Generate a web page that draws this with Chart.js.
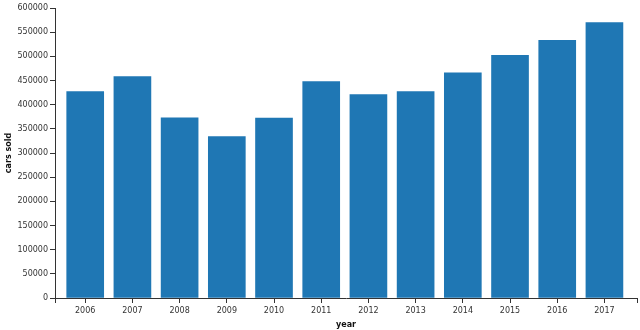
<!DOCTYPE html>
<html>
<head>
<meta charset="utf-8">
<script src="https://cdn.jsdelivr.net/npm/chart.js@4"></script>
<style>
    html, body { margin: 0; padding: 0; background: #fff; }
    #wrap { width: 640px; height: 330px; }
</style>
</head>
<body>
<div id="wrap"><canvas id="salesChart"></canvas></div>
<script>
// Data
const years = [2006, 2007, 2008, 2009, 2010, 2011, 2012, 2013, 2014, 2015, 2016, 2017];
const carsSold = [427000, 458000, 373000, 334000, 372000, 448000, 421000, 427000, 466000, 502000, 533000, 570000];
const yTicks = [0, 50000, 100000, 150000, 200000, 250000, 300000, 350000, 400000, 450000, 500000, 550000, 600000];

const axisColor = '#333';
const tickFont = { family: 'DejaVu Sans', size: 8 };
const titleFont = { family: 'DejaVu Sans', size: 8, weight: 'bold' };

const xMin = 2005.36;
const xMax = 2017.69;

const ctx = document.getElementById('salesChart').getContext('2d');
new Chart(ctx, {
    type: 'bar',
    data: {
        datasets: [{
            data: years.map((y, i) => ({ x: y, y: carsSold[i] })),
            backgroundColor: '#1f77b4',
            barThickness: 37
        }]
    },
    options: {
        responsive: true,
        maintainAspectRatio: false,
        animation: false,
        layout: { padding: { top: 8, right: 3, left: 0, bottom: 0 } },
        plugins: {
            legend: { display: false },
            tooltip: { enabled: false }
        },
        scales: {
            x: {
                type: 'linear',
                min: xMin,
                max: xMax,
                offset: false,
                afterBuildTicks: scale => {
                    scale.ticks = [xMin, ...years, xMax].map(v => ({ value: v }));
                },
                afterFit: scale => { scale.height = 32; },
                grid: { offset: false, drawOnChartArea: false, drawTicks: true, tickLength: 5, color: axisColor },
                border: { display: true, color: axisColor },
                ticks: {
                    color: axisColor,
                    font: tickFont,
                    padding: 3,
                    maxRotation: 0,
                    autoSkip: false,
                    callback: value => years.includes(value) ? String(value) : ''
                },
                title: {
                    display: true,
                    text: 'year',
                    color: '#111',
                    font: titleFont,
                    padding: { top: 0, bottom: 0 }
                }
            },
            y: {
                min: 0,
                max: 600000,
                afterBuildTicks: scale => {
                    scale.ticks = yTicks.map(v => ({ value: v }));
                },
                afterFit: scale => { scale.width = 55; },
                grid: { drawOnChartArea: false, drawTicks: true, tickLength: 5, color: axisColor },
                border: { display: true, color: axisColor },
                ticks: {
                    color: axisColor,
                    font: tickFont,
                    padding: 2,
                    callback: value => String(value)
                },
                title: {
                    display: true,
                    text: 'cars sold',
                    color: '#111',
                    font: titleFont,
                    padding: { top: 4, bottom: 0 }
                }
            }
        }
    }
});
</script>
</body>
</html>
